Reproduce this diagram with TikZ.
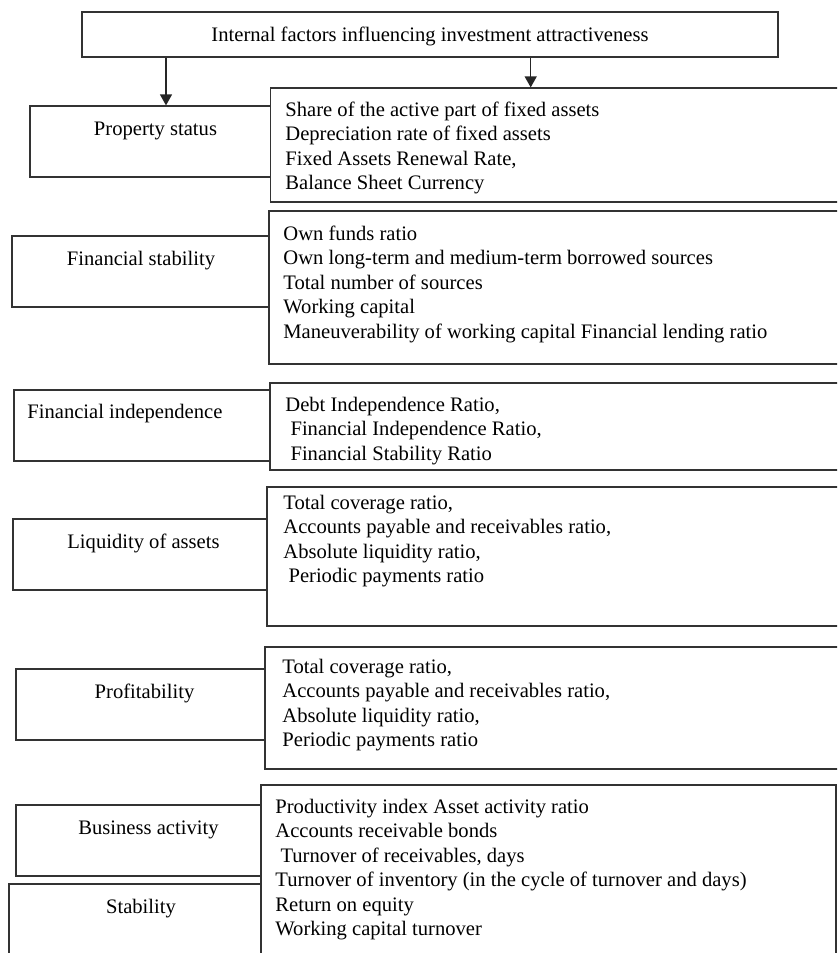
\documentclass[tikz,border=0pt]{standalone}
\usepackage{fontspec}
\setmainfont{Liberation Serif}
\usetikzlibrary{arrows.meta,fit}
\newcommand\lsp{\hspace*{0.25em}}
\newcommand\fstrut{\rule{0pt}{9pt}}
\begin{document}
\begin{tikzpicture}[x=0.5pt,y=-0.5pt,
  boxline/.style={draw=black!80,line width=0.6pt},
  frame/.style={boxline,fit={#1},inner sep=0pt},
  lbl/.style={font=\fontsize{10.3}{12.2}\selectfont,inner sep=0pt,anchor=base},
  lst/.style={font=\fontsize{10.3}{12.2}\selectfont,inner sep=0pt,anchor=north west,align=left},
  arr/.style={draw=black!85,line width=0.6pt,-{Triangle[length=5.5pt,width=6pt]}}]
\useasboundingbox (0,0) rectangle (837,953);
\clip (0,0) rectangle (837,953);

% frames
\node[frame={(82,12) (778,57)}] (top) {};
\node[frame={(30,106) (270.7,177)}] (ps) {};
\node[frame={(270.7,88) (845,202)}] (r1) {};
\node[frame={(12,236) (269,307)}] (fs) {};
\node[frame={(269,211) (845,364)}] (r2) {};
\node[frame={(14,390) (270,461)}] (fi) {};
\node[frame={(270,383) (845,470)}] (r3) {};
\node[frame={(13,519) (267,590)}] (la) {};
\node[frame={(267,487) (845,626)}] (r4) {};
\node[frame={(16,669) (265,740)}] (pr) {};
\node[frame={(265,647) (845,769)}] (r5) {};
\node[frame={(16,805) (261,876)}] (ba) {};
\node[frame={(261,785) (836,965)}] (r6) {};
\node[frame={(9,884) (261,965)}] (st) {};

% labels
\node[lbl] (topt) at (430,41) {Internal factors influencing investment attractiveness};
\node[lbl] (pst) at (155.5,135) {Property status};
\node[lbl] (fst) at (141,265) {Financial stability};
\node[lbl,anchor=base west] (fit) at (27,418) {Financial independence};
\node[lbl] (lat) at (143.5,548) {Liquidity of assets};
\node[lbl] (prt) at (144.5,698) {Profitability};
\node[lbl] (bat) at (148.5,834) {Business activity};
\node[lbl] (stt) at (141,913) {Stability};

% lists
\node[lst] (r1t) at (285,116-18) {\fstrut Share of the active part of fixed assets\\
Depreciation rate of fixed assets\\
Fixed Assets Renewal Rate,\\
Balance Sheet Currency};
\node[lst] (r2t) at (283,240-18) {\fstrut Own funds ratio\\
Own long-term and medium-term borrowed sources\\
Total number of sources\\
Working capital\\
Maneuverability of working capital Financial lending ratio};
\node[lst] (r3t) at (285,411-18) {\fstrut Debt Independence Ratio,\\
\lsp Financial Independence Ratio,\\
\lsp Financial Stability Ratio};
\node[lst] (r4t) at (283,509-18) {\fstrut Total coverage ratio,\\
Accounts payable and receivables ratio,\\
Absolute liquidity ratio,\\
\lsp Periodic payments ratio};
\node[lst] (r5t) at (282,673-18) {\fstrut Total coverage ratio,\\
Accounts payable and receivables ratio,\\
Absolute liquidity ratio,\\
Periodic payments ratio};
\node[lst] (r6t) at (275,813-18) {\fstrut Productivity index Asset activity ratio\\
Accounts receivable bonds\\
\lsp Turnover of receivables, days\\
Turnover of inventory (in the cycle of turnover and days)\\
Return on equity\\
Working capital turnover};

% connectors
\coordinate (ax1) at (166,0);
\coordinate (ax2) at (530.7,0);
\draw[arr] (ax1 |- top.south) -- (ax1 |- ps.north);
\draw[arr] (ax2 |- top.south) -- (ax2 |- r1.north);
\end{tikzpicture}
\end{document}
